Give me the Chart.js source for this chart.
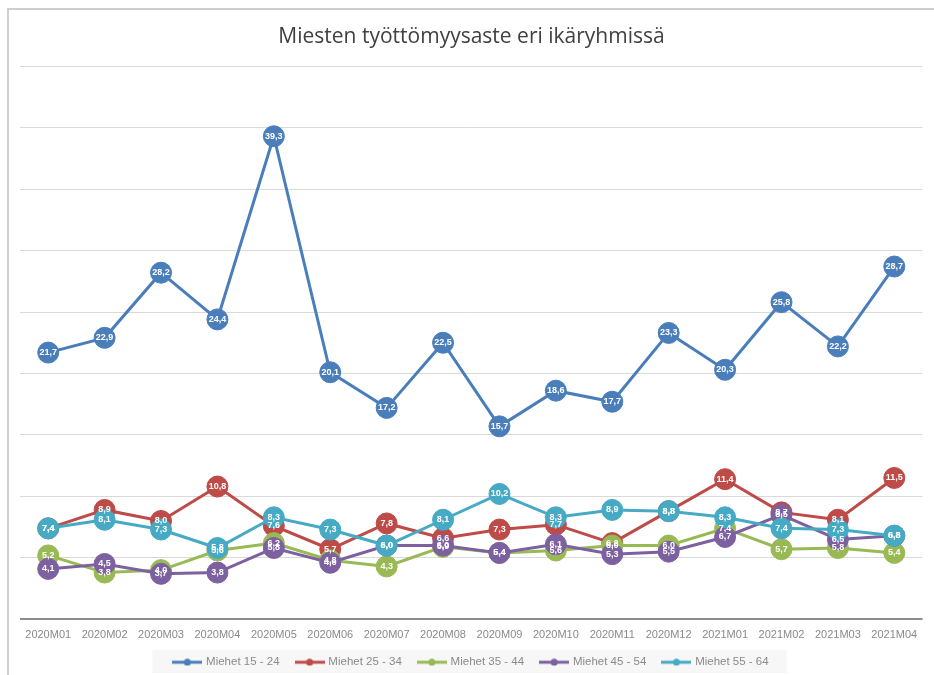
<!DOCTYPE html>
<html>
<head>
<meta charset="utf-8">
<script src="https://cdn.jsdelivr.net/npm/chart.js@4/dist/chart.umd.min.js"></script>
<style>
html,body{margin:0;padding:0;background:#fff;}
#wrap{position:absolute;left:0;top:0;width:934px;height:675px;}
</style>
</head>
<body>
<div id="wrap"><canvas id="c" width="934" height="675"></canvas></div>
<script>
const months = ['2020M01','2020M02','2020M03','2020M04','2020M05','2020M06','2020M07','2020M08','2020M09','2020M10','2020M11','2020M12','2021M01','2021M02','2021M03','2021M04'];
const seriesNames = ['Miehet 15 - 24','Miehet 25 - 34','Miehet 35 - 44','Miehet 45 - 54','Miehet 55 - 64'];
const men15_24 = [21.7,22.9,28.2,24.4,39.3,20.1,17.2,22.5,15.7,18.6,17.7,23.3,20.3,25.8,22.2,28.7];
const men25_34 = [7.4,8.9,8.0,10.8,7.6,5.7,7.8,6.6,7.3,7.7,6.2,8.8,11.4,8.7,8.1,11.5];
const men35_44 = [5.2,3.8,4.0,5.6,6.2,4.8,4.3,5.9,5.4,5.6,6.0,6.0,7.4,5.7,5.8,5.4];
const men45_54 = [4.1,4.5,3.7,3.8,5.8,4.6,6.0,6.0,5.4,6.1,5.3,5.5,6.7,8.5,6.5,6.8];
const men55_64 = [7.4,8.1,7.3,5.8,8.3,7.3,6.0,8.1,10.2,8.3,8.9,8.8,8.3,7.4,7.3,6.8];
const yTicks = [0,5,10,15,20,25,30,35,40,45];
const colors = ['#4a7ebb','#be4b48','#98b954','#7d60a0','#46aac5'];
const allSeries = [men15_24,men25_34,men35_44,men45_54,men55_64];

function legendIcon(color){
  const cv = document.createElement('canvas');
  cv.width = 30; cv.height = 8;
  const x = cv.getContext('2d');
  x.strokeStyle = color; x.lineWidth = 3;
  x.beginPath(); x.moveTo(0,4); x.lineTo(30,4); x.stroke();
  x.fillStyle = color; x.beginPath(); x.arc(15,4,3.5,0,Math.PI*2); x.fill();
  return cv;
}
const icons = colors.map(legendIcon);

const datasets = allSeries.map((d,i)=>({
  label: seriesNames[i],
  data: d,
  borderColor: colors[i],
  backgroundColor: colors[i],
  borderWidth: 3,
  pointRadius: 10.5,
  pointHoverRadius: 10.5,
  pointBackgroundColor: colors[i],
  pointBorderColor: colors[i],
  pointBorderWidth: 1,
  tension: 0,
  order: 5 - i
}));

const framePlugin = {
  id:'frame',
  afterLayout(chart){
    if (chart.legend){ chart.legend.top -= 3; chart.legend.bottom -= 3; }
  },
  beforeDraw(chart){
    const ctx = chart.ctx;
    ctx.save();
    ctx.fillStyle = '#fff';
    ctx.fillRect(0,0,chart.width,chart.height);
    ctx.strokeStyle = '#cfcfcf'; ctx.lineWidth = 2;
    ctx.beginPath(); ctx.moveTo(8,675); ctx.lineTo(8,9); ctx.lineTo(934,9); ctx.stroke();
    const lg = chart.legend;
    if (lg && lg.legendHitBoxes && lg.legendHitBoxes.length){
      const hb = lg.legendHitBoxes;
      const l = hb[0].left - 22, r = hb[hb.length-1].left + hb[hb.length-1].width + 18;
      ctx.fillStyle = '#f7f7f7';
      ctx.fillRect(l, 650, r-l, 23);
    }
    ctx.restore();
  }
};

const labelPlugin = {
  id:'vlabels',
  afterDatasetsDraw(chart){
    const ctx = chart.ctx;
    ctx.save();
    ctx.font = 'bold 9px "Liberation Sans", Arial, sans-serif';
    ctx.fillStyle = '#ffffff';
    ctx.textAlign = 'center';
    ctx.textBaseline = 'middle';
    chart.data.datasets.forEach((ds,i)=>{
      const meta = chart.getDatasetMeta(i);
      meta.data.forEach((pt,j)=>{
        const v = ds.data[j];
        ctx.fillText(v.toFixed(1).replace('.',','), pt.x, pt.y);
      });
    });
    ctx.restore();
  }
};

new Chart(document.getElementById('c'), {
  type:'line',
  data:{labels:months, datasets},
  plugins:[framePlugin,labelPlugin],
  options:{
    responsive:false,
    animation:false,
    layout:{padding:{left:20,right:11,top:24,bottom:-6}},
    plugins:{
      tooltip:{enabled:false},
      title:{display:true,text:'Miesten työttömyysaste eri ikäryhmissä',color:'#404040',
        font:{family:'"Open Sans", sans-serif',size:21,weight:'normal'},padding:{top:0,bottom:17}},
      legend:{position:'bottom',
        labels:{
          usePointStyle:true, pointStyleWidth:26, color:'#8a8a8a', padding:17,
          font:{family:'"Liberation Sans", Arial, sans-serif',size:11.5},
          generateLabels(chart){
            return chart.data.datasets.map((ds,i)=>({
              text: ds.label, fillStyle: ds.borderColor, strokeStyle: ds.borderColor,
              lineWidth:0, pointStyle: icons[i], datasetIndex:i, hidden:false, fontColor:'#8a8a8a'
            }));
          }
        }
      }
    },
    scales:{
      x:{offset:true, grid:{display:false}, border:{display:false},
        ticks:{color:'#8a8a8a',font:{family:'"Liberation Sans", Arial, sans-serif',size:11},maxRotation:0,autoSkip:false,padding:1}},
      y:{min:0,max:45,
        afterBuildTicks(ax){ ax.ticks = yTicks.map(v=>({value:v})); },
        ticks:{display:false},
        border:{display:false},
        grid:{color:(c)=>c.tick && c.tick.value===0 ? '#8c8c8c' : '#d9d9d9',
              lineWidth:(c)=>c.tick && c.tick.value===0 ? 2 : 1, drawTicks:false}}
    }
  }
});
</script>
</body>
</html>
